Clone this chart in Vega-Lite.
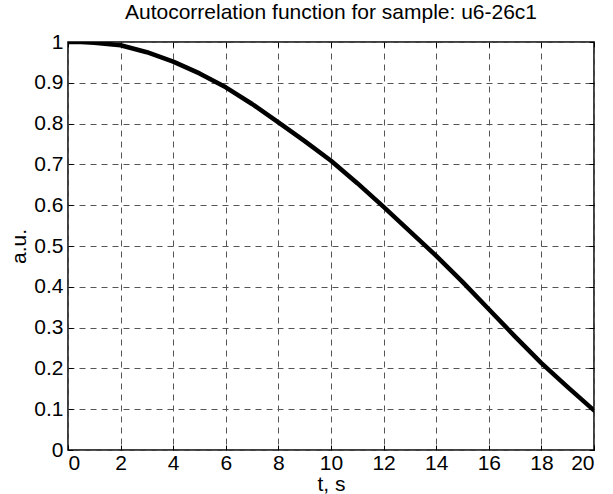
{
  "$schema": "https://vega.github.io/schema/vega-lite/v6.json",
  "autosize": {"type": "none"},
  "width": 526,
  "height": 408,
  "padding": {"left": 68, "top": 42, "right": 19, "bottom": 44},
  "background": "white",
  "config": {
    "font": "Liberation Sans",
    "view": {"stroke": "black", "strokeWidth": 1.5},
    "axis": {
      "domain": false,
      "grid": true,
      "gridColor": "#555555",
      "gridDash": [6, 5],
      "gridWidth": 1,
      "gridOpacity": 1,
      "tickColor": "black",
      "tickSize": -5,
      "tickWidth": 1,
      "labelColor": "black",
      "labelFont": "Liberation Sans",
      "labelFontSize": 21,
      "titleFont": "Liberation Sans",
      "titleFontSize": 21,
      "titleFontWeight": "normal",
      "titleColor": "black"
    }
  },
  "title": {
    "text": "Autocorrelation function for sample: u6-26c1",
    "font": "Liberation Sans",
    "fontSize": 21,
    "fontWeight": "normal",
    "color": "black",
    "offset": 8
  },
  "data": {
    "values": [
      {"t": 0, "v": 1.0},
      {"t": 0.5, "v": 1.0},
      {"t": 1, "v": 0.998},
      {"t": 2, "v": 0.992},
      {"t": 3, "v": 0.975},
      {"t": 4, "v": 0.952},
      {"t": 5, "v": 0.923},
      {"t": 6, "v": 0.889},
      {"t": 7, "v": 0.848},
      {"t": 8, "v": 0.803},
      {"t": 9, "v": 0.757},
      {"t": 10, "v": 0.709},
      {"t": 11, "v": 0.654},
      {"t": 12, "v": 0.596},
      {"t": 13, "v": 0.536},
      {"t": 14, "v": 0.476},
      {"t": 15, "v": 0.412},
      {"t": 16, "v": 0.345},
      {"t": 17, "v": 0.278},
      {"t": 18, "v": 0.213},
      {"t": 19, "v": 0.154},
      {"t": 20, "v": 0.097}
    ]
  },
  "resolve": {"axis": {"x": "independent", "y": "independent"}},
  "layer": [
    {
      "mark": {"type": "line", "color": "black", "strokeWidth": 4.5, "strokeCap": "round", "strokeJoin": "round", "clip": true},
      "encoding": {
        "x": {
          "field": "t", "type": "quantitative",
          "scale": {"domain": [0, 20], "nice": false},
          "axis": {"values": [0, 2, 4, 6, 8, 10, 12, 14, 16, 18, 20], "title": "t, s", "labelPadding": 7, "titlePadding": 0, "orient": "bottom"}
        },
        "y": {
          "field": "v", "type": "quantitative",
          "scale": {"domain": [0, 1], "nice": false, "zero": false},
          "axis": {"values": [0, 0.1, 0.2, 0.3, 0.4, 0.5, 0.6, 0.7, 0.8, 0.9, 1], "format": "~g", "title": "a.u.", "labelPadding": 10, "titlePadding": 4, "orient": "left"}
        }
      }
    },
    {
      "mark": {"type": "line", "opacity": 0},
      "encoding": {
        "x": {
          "field": "t", "type": "quantitative",
          "scale": {"domain": [0, 20], "nice": false},
          "axis": {"values": [0, 2, 4, 6, 8, 10, 12, 14, 16, 18, 20], "title": null, "labels": false, "grid": false, "orient": "top"}
        },
        "y": {
          "field": "v", "type": "quantitative",
          "scale": {"domain": [0, 1], "nice": false, "zero": false},
          "axis": {"values": [0, 0.1, 0.2, 0.3, 0.4, 0.5, 0.6, 0.7, 0.8, 0.9, 1], "title": null, "labels": false, "grid": false, "orient": "right"}
        }
      }
    }
  ]
}
